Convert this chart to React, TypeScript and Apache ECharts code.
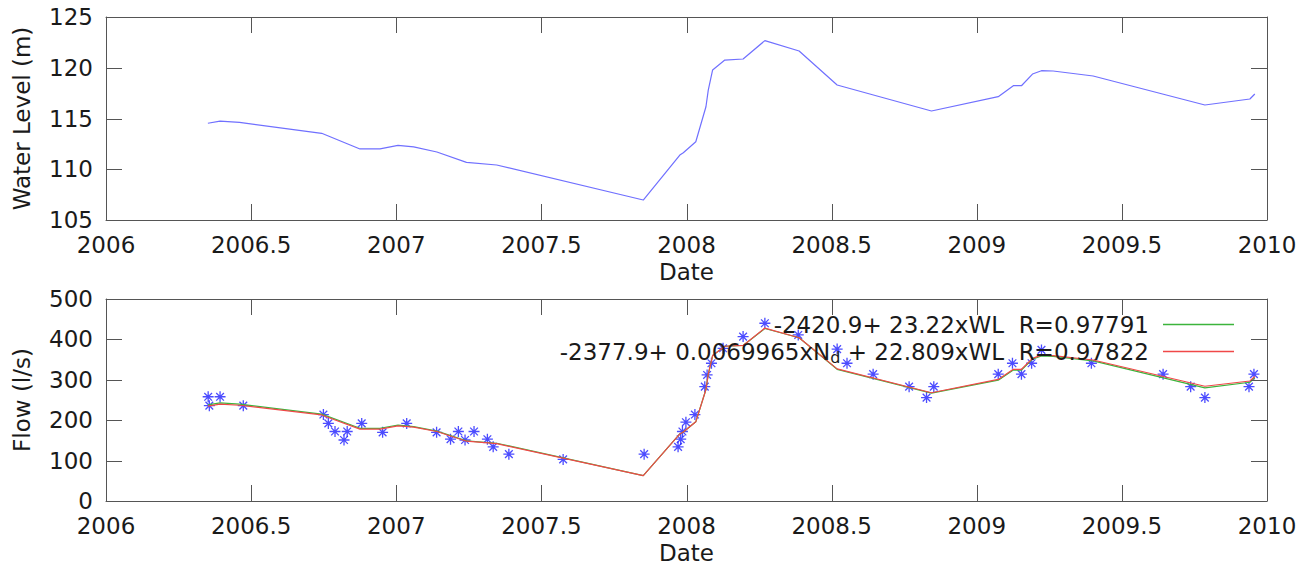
import React, { useEffect, useRef } from "react";
import * as echarts from "echarts";

// Water level (top panel)
const wlDates = [2006.351, 2006.393, 2006.46, 2006.743, 2006.875, 2006.944, 2007.006, 2007.06, 2007.14, 2007.242, 2007.346, 2007.851, 2007.977, 2007.989, 2008.032, 2008.067, 2008.075, 2008.09, 2008.132, 2008.195, 2008.27, 2008.388, 2008.519, 2008.844, 2009.074, 2009.126, 2009.154, 2009.192, 2009.223, 2009.263, 2009.401, 2009.786, 2009.941, 2009.958];
const wlValues = [114.53, 114.75, 114.62, 113.54, 112.0, 112.0, 112.36, 112.2, 111.7, 110.68, 110.42, 106.97, 111.4, 111.63, 112.71, 116.16, 117.8, 119.78, 120.76, 120.86, 122.67, 121.65, 118.3, 115.74, 117.15, 118.23, 118.23, 119.38, 119.71, 119.68, 119.19, 116.33, 116.92, 117.41];

// Fitted flows (bottom panel lines), at the water-level dates
const fit1Values = [238, 243, 240, 215, 180, 180, 188, 184, 173, 149, 143, 63, 166, 171, 196, 276, 314, 360, 383, 385, 427, 404, 326, 267, 299, 324, 324, 351, 359, 358, 347, 280, 294, 305];
const fit2Values = [235, 240, 237, 213, 178, 178, 186, 183, 172, 148, 142, 63, 166, 171, 196, 276, 314, 360, 383, 385, 428, 404, 327, 268, 301, 326, 326, 353, 361, 360, 349, 284, 297, 308];

// Measured flows (bottom panel asterisks)
const flowDates = [2006.352, 2006.356, 2006.393, 2006.473, 2006.749, 2006.766, 2006.789, 2006.82, 2006.831, 2006.881, 2006.953, 2007.036, 2007.139, 2007.187, 2007.214, 2007.237, 2007.268, 2007.314, 2007.334, 2007.388, 2007.575, 2007.854, 2007.971, 2007.98, 2007.986, 2007.998, 2008.029, 2008.063, 2008.071, 2008.086, 2008.126, 2008.195, 2008.27, 2008.385, 2008.519, 2008.553, 2008.643, 2008.767, 2008.827, 2008.852, 2009.074, 2009.123, 2009.154, 2009.189, 2009.223, 2009.395, 2009.642, 2009.737, 2009.786, 2009.938, 2009.955];
const flowValues = [258, 236, 258, 236, 214, 192, 172, 151, 172, 192, 170, 192, 170, 153, 172, 151, 172, 153, 134, 116, 103, 116, 134, 153, 172, 195, 214, 283, 312, 341, 378, 407, 440, 411, 376, 341, 314, 283, 256, 283, 314, 341, 314, 341, 374, 341, 314, 283, 256, 283, 314];

// Tick values
const xTicks = [2006, 2006.5, 2007, 2007.5, 2008, 2008.5, 2009, 2009.5, 2010];
const wlTicks = [105, 110, 115, 120, 125];
const flowTicks = [0, 100, 200, 300, 400, 500];

const fit1Name = "-2420.9+ 23.22xWL  R=0.97791";
const fit2Name = "-2377.9+ 0.0069965xNd + 22.809xWL  R=0.97822";

const FONT = "DejaVu Sans";
const FS = 23;
const TXT = "#1a1a1a";
const FRAME = "#555";
const TICK = "#555";
const TICK_LEN = 16;

function zip(xs: number[], ys: number[]) {
  return xs.map((x, i) => [x, ys[i]]);
}

const fmt = (v: number) => String(Math.round(v * 10) / 10);

export default function App() {
  const ref = useRef<HTMLDivElement>(null);
  useEffect(() => {
    if (!ref.current) return;
    const chart = echarts.init(ref.current, undefined, { renderer: "svg" });

    const xMin = xTicks[0];
    const xMax = xTicks[xTicks.length - 1];

    const mkLine = () => ({ show: true, onZero: false, lineStyle: { color: FRAME, width: 1 } });
    const mkLabel = () => ({ show: true, color: TXT, fontFamily: FONT, fontSize: FS, margin: 13, formatter: fmt });
    const noTick = () => ({ show: false });

    const xMain = (grid: number) => ({
      type: "value",
      gridIndex: grid,
      min: xMin,
      max: xMax,
      interval: 0.5,
      position: "bottom",
      name: "Date",
      nameLocation: "middle",
      nameGap: 40,
      nameTextStyle: { color: TXT, fontFamily: FONT, fontSize: FS },
      axisLine: mkLine(),
      axisTick: noTick(),
      axisLabel: mkLabel(),
      splitLine: { show: false },
    });
    const xMirror = (grid: number) => ({
      type: "value",
      gridIndex: grid,
      min: xMin,
      max: xMax,
      interval: 0.5,
      position: "top",
      axisLine: mkLine(),
      axisTick: noTick(),
      axisLabel: { show: false },
      splitLine: { show: false },
    });
    const yMain = (grid: number, ticks: number[], name: string) => ({
      type: "value",
      gridIndex: grid,
      min: ticks[0],
      max: ticks[ticks.length - 1],
      interval: ticks[1] - ticks[0],
      position: "left",
      name,
      nameLocation: "middle",
      nameGap: 73,
      nameTextStyle: { color: TXT, fontFamily: FONT, fontSize: FS },
      axisLine: mkLine(),
      axisTick: noTick(),
      axisLabel: mkLabel(),
      splitLine: { show: false },
    });
    const yMirror = (grid: number, ticks: number[]) => ({
      type: "value",
      gridIndex: grid,
      min: ticks[0],
      max: ticks[ticks.length - 1],
      interval: ticks[1] - ticks[0],
      position: "right",
      axisLine: mkLine(),
      axisTick: noTick(),
      axisLabel: { show: false },
      splitLine: { show: false },
    });

    const legendText = () => ({
      color: TXT,
      fontFamily: FONT,
      fontSize: FS,
      padding: [0, 9, 0, 0],
      rich: {
        sub: { fontSize: 16, fontFamily: FONT, color: TXT, padding: [12, 0, 0, 0] },
      },
    });

    chart.setOption({
      animation: false,
      backgroundColor: "#ffffff",
      grid: [
        { left: 106, top: 17, width: 1161, height: 203 },
        { left: 106, top: 299, width: 1161, height: 202 },
      ],
      xAxis: [xMain(0), xMirror(0), xMain(1), xMirror(1)],
      yAxis: [
        yMain(0, wlTicks, "Water Level (m)"),
        yMirror(0, wlTicks),
        yMain(1, flowTicks, "Flow (l/s)"),
        yMirror(1, flowTicks),
      ],
      legend: [
        {
          data: [fit1Name],
          right: 69,
          top: 308,
          align: "right",
          icon: "rect",
          itemWidth: 71,
          itemHeight: 1.3,
          textStyle: legendText(),
          selectedMode: false,
        },
        {
          data: [fit2Name],
          right: 69,
          top: 335,
          align: "right",
          icon: "rect",
          itemWidth: 71,
          itemHeight: 1.3,
          textStyle: legendText(),
          selectedMode: false,
          formatter: (n: string) => n.replace("Nd", "N{sub|d}"),
        },
      ],
      series: [
        {
          type: "line",
          name: "Water Level",
          xAxisIndex: 0,
          yAxisIndex: 0,
          data: zip(wlDates, wlValues),
          symbol: "none",
          showSymbol: false,
          lineStyle: { color: "#7070ff", width: 1.2 },
          itemStyle: { color: "#7070ff" },
        },
        {
          type: "scatter",
          name: "Flow",
          xAxisIndex: 2,
          yAxisIndex: 2,
          data: zip(flowDates, flowValues),
          symbol: "path://M6,0L6,12M0,6L12,6M1.8,1.8L10.2,10.2M1.8,10.2L10.2,1.8",
          symbolSize: 11,
          itemStyle: { color: "rgba(0,0,0,0)", borderColor: "#1f1fff", borderWidth: 1.3 },
        },
        {
          type: "line",
          name: fit1Name,
          xAxisIndex: 2,
          yAxisIndex: 2,
          data: zip(wlDates, fit1Values),
          symbol: "none",
          showSymbol: false,
          lineStyle: { color: "#3cb43c", width: 1.2 },
          itemStyle: { color: "#3cb43c" },
        },
        {
          type: "line",
          name: fit2Name,
          xAxisIndex: 2,
          yAxisIndex: 2,
          data: zip(wlDates, fit2Values),
          symbol: "none",
          showSymbol: false,
          lineStyle: { color: "#f04848", width: 1.2 },
          itemStyle: { color: "#f04848" },
        },
      ],
    });

    // Inward tick marks on all four sides of both panels, positioned with the axes' own scales
    const tickEls: any[] = [];
    const addTicks = (axisIdx: number, yTicks: number[]) => {
      const finder = { xAxisIndex: axisIdx, yAxisIndex: axisIdx };
      const yLo = yTicks[0];
      const yHi = yTicks[yTicks.length - 1];
      xTicks.forEach((v) => {
        const b = chart.convertToPixel(finder as any, [v, yLo]) as number[];
        const t = chart.convertToPixel(finder as any, [v, yHi]) as number[];
        const x = Math.round(b[0]);
        tickEls.push({ type: "rect", silent: true, z: 100, shape: { x, y: Math.round(b[1]) - TICK_LEN, width: 1, height: TICK_LEN }, style: { fill: TICK } });
        tickEls.push({ type: "rect", silent: true, z: 100, shape: { x, y: Math.round(t[1]), width: 1, height: TICK_LEN }, style: { fill: TICK } });
      });
      yTicks.forEach((v) => {
        const l = chart.convertToPixel(finder as any, [xMin, v]) as number[];
        const r = chart.convertToPixel(finder as any, [xMax, v]) as number[];
        const y = Math.round(l[1]);
        tickEls.push({ type: "rect", silent: true, z: 100, shape: { x: Math.round(l[0]), y, width: TICK_LEN, height: 1 }, style: { fill: TICK } });
        tickEls.push({ type: "rect", silent: true, z: 100, shape: { x: Math.round(r[0]) - TICK_LEN, y, width: TICK_LEN, height: 1 }, style: { fill: TICK } });
      });
    };
    addTicks(0, wlTicks);
    addTicks(2, flowTicks);
    chart.setOption({ graphic: { elements: tickEls } });

    return () => chart.dispose();
  }, []);
  return (
    <div
      ref={ref}
      style={{ position: "absolute", left: 0, top: 0, width: 1308, height: 567, background: "#fff" }}
    />
  );
}
